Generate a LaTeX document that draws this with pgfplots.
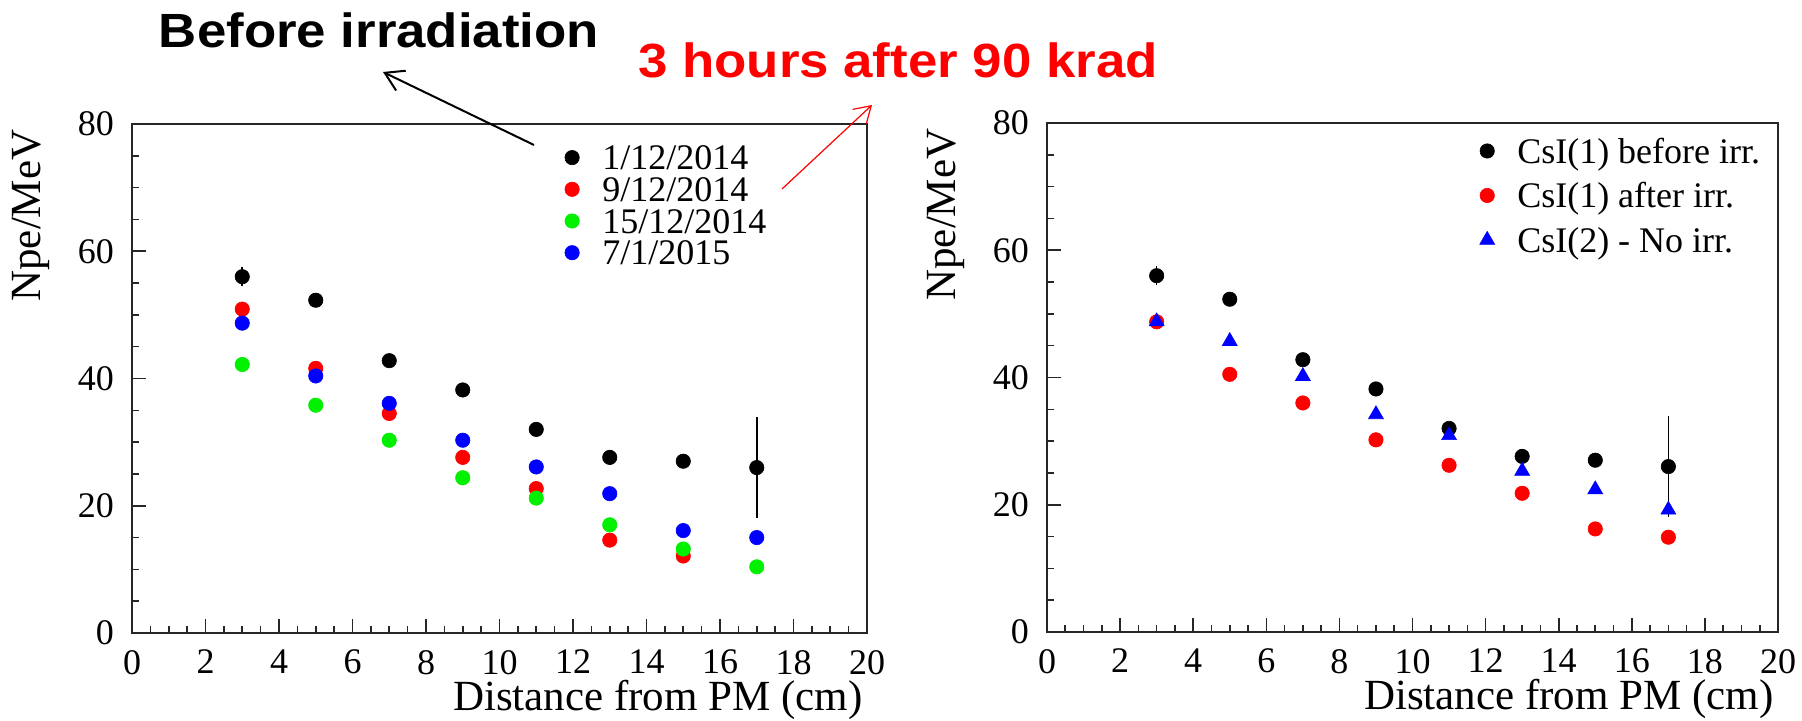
\documentclass[border=0pt]{standalone}
\usepackage{fontspec}
\setmainfont{Liberation Serif}
\newfontfamily\annfont{Liberation Sans}
\usepackage{pgfplots}
\usepackage{pgfplotstable}
\pgfplotsset{compat=1.18}
\usetikzlibrary{arrows.meta}

\definecolor{rootred}{RGB}{255,0,0}
\definecolor{rootgreen}{RGB}{0,240,0}
\definecolor{rootblue}{RGB}{0,0,255}

\pgfplotstableread{
x y ey
3 56.0 1.5
5 52.3 0.8
7 42.8 0.9
9 38.2 1.0
11 32.0 0.8
13 27.6 1.2
15 27.0 0.7
17 26.0 7.9
}\blackdata
\pgfplotstableread{
x y
3 50.9
5 41.6
7 34.5
9 27.6
11 22.7
13 14.6
15 12.1
}\reddata
\pgfplotstableread{
x y
3 42.2
5 35.8
7 30.3
9 24.4
11 21.2
13 17.0
15 13.2
17 10.4
}\greendata
\pgfplotstableread{
x y
3 48.7
5 40.4
7 36.1
9 30.3
11 26.1
13 21.9
15 16.1
17 15.0
}\bluedata
\pgfplotstableread{
x y
3 48.75
5 40.5
7 36.0
9 30.2
11 26.2
13 21.8
15 16.2
17 14.9
}\afterdata
\pgfplotstableread{
x y
3 48.8
5 45.7
7 40.2
9 34.2
11 30.9
13 25.3
15 22.4
17 19.2
}\csitwodata

\pgfplotsset{
  rootaxis/.style={
    scale only axis, height=254.5pt,
    xmin=0, xmax=20, ymin=0, ymax=80,
    xtick={0,2,...,20}, ytick={0,20,...,80},
    minor x tick num=3, minor y tick num=3,
    tick align=inside, tick pos=left,
    major tick length=7pt, minor tick length=3.5pt,
    axis line style={line width=0.8pt, black!85},
    every tick/.style={line width=0.8pt, black!85},
    /pgf/number format/assume math mode=true,
    xticklabel={\pgfmathprintnumber[assume math mode=true]{\tick}},
    yticklabel={\pgfmathprintnumber[assume math mode=true]{\tick}},
    ticklabel style={font=\fontsize{18}{20}\selectfont},
    xticklabel style={yshift=-5pt},
    yticklabel style={xshift=-5.5pt},
    label style={font=\fontsize{21.5}{25}\selectfont},
    xlabel={Distance from PM (cm)},
    xlabel style={at={(axis description cs:1,-0.153)}, anchor=base east, inner sep=0pt, xshift=-2pt},
    ylabel={Npe/MeV},
    ylabel style={at={(axis description cs:-0.138,0.82)}, anchor=center, inner sep=0pt},
    legend cell align=left,
  },
  dotleg/.style={legend image code/.code={\draw[##1] plot coordinates {(0pt,0pt)};}},
  dot/.style={only marks, mark=*, mark size=3.6pt, color=#1, mark options={draw=#1, fill=#1, line width=0.3pt}, dotleg},
}

\begin{document}
\begin{tikzpicture}
\useasboundingbox (0,0) rectangle (901pt,360.5pt);

\begin{axis}[rootaxis, at={(66pt,44pt)}, anchor=south west, width=367.5pt,
  legend style={draw=none, fill=none, at={(axis description cs:0.589,0.958)}, anchor=north west,
    font=\fontsize{18}{21}\selectfont, nodes={inner sep=0pt, text height=12.2pt, text depth=0pt},
    row sep=3.65pt, column sep=11.5pt, inner sep=0pt, outer sep=0pt}]
\addplot[dot=black, error bars/.cd, y dir=both, y explicit, error mark=none,
  error bar style={line width=0.8pt, black}] table[x=x, y=y, y error=ey] {\blackdata};
\addlegendentry{1/12/2014}
\addplot[dot=rootred] table[x=x, y=y] {\reddata};
\addlegendentry{9/12/2014}
\addplot[dot=rootgreen] table[x=x, y=y] {\greendata};
\addlegendentry{15/12/2014}
\addplot[dot=rootblue] table[x=x, y=y] {\bluedata};
\addlegendentry{7/1/2015}
\end{axis}

\begin{axis}[rootaxis, at={(523.5pt,44.5pt)}, anchor=south west, width=365.5pt,
  legend style={draw=none, fill=none, at={(axis description cs:0.592,0.969)}, anchor=north west,
    font=\fontsize{18}{21}\selectfont, nodes={inner sep=0pt, text height=12.2pt, text depth=0pt},
    row sep=10.05pt, column sep=11.3pt, inner sep=0pt, outer sep=0pt}]
\addplot[dot=black, error bars/.cd, y dir=both, y explicit, error mark=none,
  error bar style={line width=0.8pt, black}] table[x=x, y=y, y error=ey] {\blackdata};
\addlegendentry{CsI(1) before irr.}
\addplot[dot=rootred] table[x=x, y=y] {\afterdata};
\addlegendentry{CsI(1) after irr.}
\addplot[only marks, mark=triangle*, mark size=4.3pt, color=rootblue, mark options={draw=rootblue, fill=rootblue, line width=0.3pt}, dotleg] table[x=x, y=y] {\csitwodata};
\addlegendentry{CsI(2) - No irr.}
\end{axis}

\node[font=\annfont\bfseries\fontsize{24}{28}\selectfont, anchor=base, xscale=1.1] at (189.5pt,336.5pt) {Before irradiation};
\node[font=\annfont\bfseries\fontsize{24}{28}\selectfont, anchor=base, xscale=1.1, text=rootred] at (449pt,321.5pt) {3 hours after 90 krad};
\draw[line width=1pt, -{Straight Barb[length=9pt, width=11pt]}] (267pt,288pt) -- (191.5pt,324.5pt);
\draw[line width=0.6pt, rootred, -{Straight Barb[length=8pt, width=10pt]}] (391pt,266pt) -- (436pt,308pt);
\end{tikzpicture}
\end{document}
